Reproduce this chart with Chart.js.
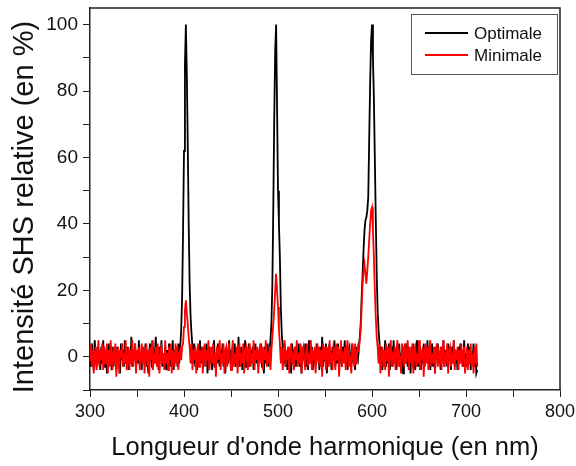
<!DOCTYPE html>
<html lang="fr">
<head>
    <meta charset="UTF-8">
    <title>Intensité SHS relative</title>
    <script src="https://cdn.jsdelivr.net/npm/chart.js"></script>
    <style>
        body { margin: 0; background: #fff; }
        #wrap { width: 576px; height: 466px; }
    </style>
</head>
<body>
<div id="wrap"><canvas id="shsChart" width="576" height="466"></canvas></div>

<script>
    // wavelength grid: starts at 300 nm, one sample per nm
    const startNm = 300;
    const stepNm = 1;

    const seriesNames = ['Optimale', 'Minimale'];
    const seriesColors = ['#000000', '#ff0000'];

    // one row = 20 nm
    const optimale = [
        2, -3, 4, -1, -4, 5, 0, -3, 3, -2, 1, -4, 3, -2, 5, -1, -3, 2, -5, 1,
        4, -2, 0, -4, 3, -3, 2, -1, -4, 3, -2, 1, -5, 4, -1, 2, -3, 5, -2, 0,
        3, -4, 1, -2, 6, -3, 2, -1, 4, -3, 2, -2, 5, -3, 1, -4, 3, 0, -2, 4,
        -3, 1, -5, 2, 4, -1, -3, 3, -2, 1, 6, -2, 0, -4, 3, -1, 5, -3, 1, -2,
        3, -4, 2, -1, 4, -3, 1, -2, 5, -4, 2, -1, 3, -3, 4, -2, 3, 8, 18, 38,
        62, 88, 100, 85, 64, 40, 22, 12, 7, 3, -2, 4, -3, 1, -4, 3, -1, 5, -2, 0,
        3, -3, 2, -1, 4, -5, 1, 3, -2, 0, -4, 2, 5, -3, 1, -2, 4, -1, -3, 2,
        -1, 4, -3, 2, -5, 3, 0, -2, 5, -1, 2, -4, 3, -1, 4, -3, 1, -2, 6, -3,
        0, 3, -4, 2, -1, 5, -3, 1, -2, 4, -3, 2, -1, 3, -4, 1, 4, -2, 0, -3,
        2, -1, 4, -3, 1, -5, 3, -2, 0, 4, -3, 2, 5, 10, 22, 45, 72, 92, 100, 75,
        50, 40, 30, 15, 7, 3, -2, 4, -3, 1, -4, 3, -1, 2, -5, 4, -2, 1, 3, -3,
        1, -2, 4, -3, 2, -5, 3, 0, -1, 4, -3, 2, -4, 5, -2, 1, 3, -4, 0, 2,
        -3, 4, -1, 2, -4, 3, -2, 6, -3, 1, -1, 4, -5, 2, 3, -2, 0, -4, 3, -1,
        5, -3, 1, -2, 4, -4, 2, 0, -3, 3, -1, 5, -2, 1, -4, 2, 3, -3, 0, 4,
        -2, 1, -4, 3, 0, -1, 3, 6, 10, 18, 25, 32, 38, 41, 42, 44, 48, 65, 82, 95,
        100, 90, 78, 60, 42, 25, 14, 8, 4, -2, 3, -4, 1, -1, 5, -3, 2, -2, 4, -4,
        1, 3, -3, 5, -2, 1, -4, 2, -1, 4, -3, 0, 2, -5, 3, -2, 4, -1, -3, 2,
        1, -5, 3, -2, 4, -1, -4, 2, 5, -3, 0, 3, -4, 1, -2, 4, -3, 2, -1, 5,
        -2, 3, -4, 1, 4, -3, 2, -5, 3, -1, 4, -2, 1, -4, 3, -1, 5, -3, 2, 0,
        -3, 4, -1, 2, -4, 3, -2, 5, -3, 1, 0, -4, 3, -2, 4, -1, 2, -3, 5, -2,
        1, -3, 4, -2, 3, -4, 1, -1, 4, -3, 2, -5, -4
    ];

    const minimale = [
        -1, 4, -3, 2, -5, 1, 3, -4, 0, 5, -3, 2, -1, 4, -4, 3, -2, 1, 4, -5,
        2, -3, 5, -1, -4, 3, -2, 4, -6, 1, 3, -5, 2, 0, 4, -3, 1, -2, 5, -4,
        -1, 3, -4, 2, -2, 5, -3, 1, 4, -5, 2, -1, 3, -4, 0, 4, -2, 3, -5, 1,
        4, -3, 2, -6, 3, -1, 5, -4, 1, -2, 3, -3, 4, -1, -5, 2, 3, -2, 1, -4,
        5, -2, 1, -4, 3, -1, 4, -5, 2, 0, -3, 4, -2, 3, -4, 1, 2, -1, 3, 4,
        9, 14, 17, 13, 10, 6, 3, -2, 4, -4, 2, -1, 3, -5, 1, 4, -3, 2, -1, 3,
        -5, 1, 4, -3, 2, -1, 5, -4, 0, 3, -2, 4, -3, 1, -6, 3, -1, 2, 5, -4,
        1, -2, 4, -5, 2, 3, -3, 0, 4, -1, -4, 2, 5, -3, 1, -2, 3, -5, 2, 4,
        -3, 1, -2, 4, -5, 2, 3, -1, -4, 2, 4, -3, 1, -2, 5, -4, 2, -1, 3, -5,
        1, 4, -2, 3, -4, 2, -1, 5, -3, 0, -2, 3, -4, 2, 6, 10, 14, 20, 25, 20,
        15, 8, 4, -2, 3, -4, 1, 5, -3, 2, -1, 3, -5, 2, 4, -2, 0, -4, 3, -1,
        5, -3, 1, -2, 4, -5, 2, 3, -1, -4, 2, 4, -3, 1, -2, 5, -4, 2, -1, 3,
        -5, 1, 4, -2, 3, -3, 2, -6, 4, -1, 3, -4, 1, 2, -3, 5, -2, 1, -4, 3,
        2, -4, 4, -1, 3, -6, 2, 5, -3, 0, -2, 3, -4, 2, 5, -3, 1, -1, -5, 4,
        2, -3, 4, -2, 1, 3, 2, 5, 8, 15, 22, 26, 28, 25, 22, 26, 30, 35, 40, 44,
        45, 38, 30, 20, 12, 6, 3, -2, 4, -5, 1, 3, -3, 2, -4, 4, -1, 3, -6, 2,
        5, -3, 0, -2, 3, -4, 2, 5, -3, 1, -1, -5, 4, 2, -3, 4, -2, 1, 5, -4,
        3, -1, -2, 4, -5, 2, 3, -3, 1, -2, 5, -4, 2, -1, 3, -6, 1, 4, -2, 3,
        -4, 2, 5, -3, 1, -2, 3, -5, 2, 4, -3, 1, -1, 3, -4, 2, 5, -3, 0, -2,
        4, -5, 2, 3, -3, 1, -2, 5, -4, 2, -1, 3, -4, 2, -2, 4, -3, 1, 3, -5,
        -1, 3, -4, 2, -2, 4, -3, 1, -5, 3, -2, 4, -3
    ];

    const xMajorTicks = [300, 400, 500, 600, 700, 800];
    const yMajorTicks = [0, 20, 40, 60, 80, 100];

    const fontFamily = '"Liberation Sans", Arial, sans-serif';

    function toPoints(values) {
        return values.map((v, i) => ({ x: startNm + i * stepNm, y: v }));
    }

    // frame on top/right + boxed legend, like the original plot
    const framePlugin = {
        id: 'frame',
        afterDatasetsDraw(chart) {
            const { ctx, chartArea: a } = chart;
            ctx.save();
            ctx.strokeStyle = '#222';
            ctx.lineWidth = 1.5;
            ctx.beginPath();
            ctx.moveTo(a.left, a.top);
            ctx.lineTo(a.right, a.top);
            ctx.lineTo(a.right, a.bottom);
            ctx.stroke();

            // legend box
            const bx = 411, by = 14, bw = 146, bh = 60;
            ctx.fillStyle = '#fff';
            ctx.fillRect(bx, by, bw, bh);
            ctx.strokeStyle = '#555';
            ctx.lineWidth = 1;
            ctx.strokeRect(bx + 0.5, by + 0.5, bw, bh);

            ctx.font = '17px ' + fontFamily;
            ctx.textBaseline = 'middle';
            ctx.textAlign = 'left';
            seriesNames.forEach((name, i) => {
                const y = 33 + i * 22;
                ctx.strokeStyle = seriesColors[i];
                ctx.lineWidth = 2;
                ctx.beginPath();
                ctx.moveTo(425, y);
                ctx.lineTo(468, y);
                ctx.stroke();
                ctx.fillStyle = '#111';
                ctx.fillText(name, 474, y + 1);
            });
            ctx.restore();
        }
    };

    const ctx = document.getElementById('shsChart').getContext('2d');
    new Chart(ctx, {
        type: 'line',
        data: {
            datasets: [
                {
                    label: seriesNames[1],
                    data: toPoints(minimale),
                    borderColor: seriesColors[1],
                    borderWidth: 1.8,
                    pointRadius: 0,
                    tension: 0
                },
                {
                    label: seriesNames[0],
                    data: toPoints(optimale),
                    borderColor: seriesColors[0],
                    borderWidth: 1.8,
                    pointRadius: 0,
                    tension: 0
                }
            ]
        },
        options: {
            responsive: false,
            animation: false,
            layout: { padding: { top: 8, right: 16, left: 0, bottom: 0 } },
            plugins: {
                legend: { display: false },
                tooltip: { enabled: false }
            },
            scales: {
                x: {
                    type: 'linear',
                    min: 300,
                    max: 800,
                    afterFit: (s) => {
                        s.height = 76;
                        s.paddingLeft = 0;
                        s.paddingRight = 0;
                    },
                    border: { color: '#222', width: 1.5 },
                    grid: { drawOnChartArea: false, tickLength: 7, color: '#222' },
                    ticks: {
                        stepSize: 50,
                        maxRotation: 0,
                        autoSkip: false,
                        padding: 4,
                        color: '#111',
                        font: { family: fontFamily, size: 18 },
                        callback: (v) => xMajorTicks.includes(v) ? String(v) : ''
                    },
                    title: {
                        display: true,
                        text: "Longueur d'onde harmonique (en nm)",
                        color: '#111',
                        font: { family: fontFamily, size: 25.5, lineHeight: 1.2 },
                        padding: { top: 0, bottom: 3 }
                    }
                },
                y: {
                    min: -10,
                    max: 105,
                    afterFit: (s) => {
                        s.width = 90;
                        s.paddingTop = 0;
                        s.paddingBottom = 0;
                    },
                    border: { color: '#222', width: 1.5 },
                    grid: { drawOnChartArea: false, tickLength: 7, color: '#222' },
                    ticks: {
                        stepSize: 10,
                        includeBounds: false,
                        autoSkip: false,
                        padding: 5,
                        color: '#111',
                        font: { family: fontFamily, size: 19 },
                        callback: (v) => yMajorTicks.includes(v) ? String(v) : ''
                    },
                    title: {
                        display: true,
                        // trailing spaces nudge the rotated title down a little
                        text: 'Intensité SHS relative (en %)\u00a0\u00a0',
                        color: '#111',
                        font: { family: fontFamily, size: 29, lineHeight: 1.2 },
                        padding: { top: 8, bottom: 0 }
                    }
                }
            }
        },
        plugins: [framePlugin]
    });
</script>
</body>
</html>
